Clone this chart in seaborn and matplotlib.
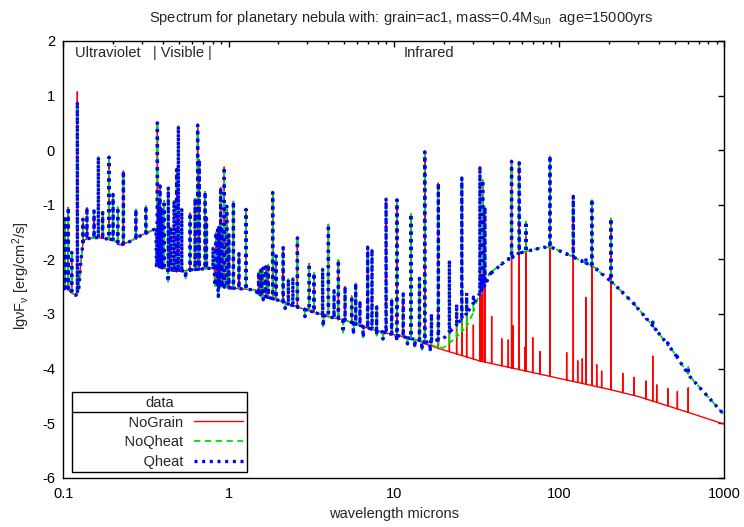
import numpy as np
import pandas as pd
import matplotlib
matplotlib.use("Agg")
import matplotlib.pyplot as plt
import seaborn as sns
from matplotlib.lines import Line2D
from matplotlib.transforms import IdentityTransform
from matplotlib.ticker import LogLocator, FixedLocator, NullFormatter

# ---------------- data ----------------
series_names = ["NoGrain", "NoQheat", "Qheat"]
series_colors = ["#ff0000", "#00e000", "#0000ff"]

# continuum shared by all three runs (microns, log nuFnu)
cont_wl = [0.100, 0.105, 0.110, 0.119, 0.1216, 0.124, 0.128, 0.132, 0.140, 0.160, 0.200,
           0.220, 0.250, 0.300, 0.350, 0.364, 0.366, 0.400, 0.500, 0.600, 0.800,
           0.820, 0.825, 1.000, 1.300, 1.460, 1.500, 2.000, 2.300, 3.000, 4.000,
           5.000, 7.000, 9.000, 11.50, 14.00]
cont_lg = [-2.55, -2.50, -2.60, -2.66, -2.62, -2.55, -2.00, -1.66, -1.62, -1.60, -1.64,
           -1.74, -1.68, -1.55, -1.46, -1.44, -2.12, -2.16, -2.22, -2.19, -2.16,
           -2.15, -2.48, -2.52, -2.55, -2.56, -2.64, -2.75, -2.82, -2.93, -3.05,
           -3.11, -3.26, -3.35, -3.42, -3.48]

# long-wavelength continuum of each run
nograin_wl = [15.5, 20.0, 33.0, 50.0, 100.0, 200.0, 300.0, 600.0, 1000.0]
nograin_lg = [-3.55, -3.66, -3.86, -3.98, -4.18, -4.38, -4.51, -4.80, -5.02]

noqheat_wl = [15.5, 18.0, 20.0, 24.0, 27.6, 30.0, 33.0, 38.2, 48.2, 52.8, 56.6,
              80.4, 90.0, 111.0, 161.0, 213.0, 281.0, 372.0, 491.0, 620.0, 1000.0]
noqheat_lg = [-3.52, -3.60, -3.62, -3.42, -3.23, -3.00, -2.62, -2.25, -2.01, -1.96, -1.89,
              -1.78, -1.78, -1.90, -2.13, -2.44, -2.80, -3.23, -3.69, -4.15, -4.85]

qheat_wl = [15.5, 17.0, 20.0, 24.0, 27.6, 32.0, 36.5, 38.2, 48.2, 52.8, 56.6,
            80.4, 90.0, 111.0, 161.0, 213.0, 281.0, 372.0, 491.0, 620.0, 1000.0]
qheat_lg = [-3.52, -3.50, -3.45, -3.20, -2.99, -2.70, -2.41, -2.27, -2.01, -1.96, -1.89,
            -1.78, -1.78, -1.90, -2.13, -2.44, -2.80, -3.23, -3.69, -4.15, -4.85]

# emission lines: wavelength (micron) and log line peak
line_wl = [0.1024, 0.1072, 0.1124, 0.1216, 0.1315, 0.139, 0.1535, 0.163, 0.173, 0.189,
           0.200, 0.2135, 0.231, 0.275, 0.316, 0.371, 0.377, 0.380, 0.385, 0.390,
           0.397, 0.408, 0.432, 0.447, 0.468, 0.485, 0.497, 0.521, 0.585, 0.627,
           0.650, 0.665, 0.721, 0.735, 0.806, 0.840, 0.860, 0.875, 0.896, 0.910,
           0.942, 0.975, 1.005, 1.070, 1.156, 1.276, 1.520, 1.570, 1.620, 1.680,
           1.740, 1.850, 1.940, 2.140, 2.300, 2.450, 2.610, 3.080, 3.290, 3.710,
           4.020, 4.350, 4.620, 5.070, 5.560, 5.880, 6.240, 6.950, 7.380, 7.880,
           8.980, 9.710, 10.45, 11.40, 12.70, 14.30, 15.40, 16.90, 18.60, 21.70,
           24.00, 25.80, 27.60, 30.30, 33.20, 34.00, 34.50, 35.60, 39.10, 45.00,
           49.30, 51.60, 52.50, 57.40, 62.20, 63.10, 69.30, 76.70, 88.10, 111.2,
           121.9, 129.7, 138.3, 145.6, 158.0, 169.0, 181.0, 206.0, 243.0, 285.0,
           336.0, 369.0, 390.0, 455.0, 520.0, 605.0]
line_lg = [-1.28, -1.06, -1.96, 0.89, -1.46, -1.19, -1.28, -0.14, -1.32, -0.14,
           -0.88, -1.15, -0.40, -1.24, -1.19, 0.50, -1.20, -1.00, -0.67, -1.30,
           -1.10, -0.95, -0.69, -1.50, -0.95, -0.36, 0.44, -1.10, -1.19, -0.91,
           0.46, -0.18, -0.78, -1.30, -2.01, -1.55, -1.50, -1.45, -0.69, -1.50,
           -0.31, -1.04, -1.60, -0.95, -2.01, -1.10, -2.45, -2.38, -2.32, -2.28,
           -2.22, -0.78, -2.01, -1.83, -2.55, -2.50, -1.63, -2.14, -2.34, -2.23,
           -1.37, -2.74, -2.05, -2.62, -2.84, -2.52, -2.96, -1.79, -1.83, -3.07,
           -0.88, -2.84, -0.91, -2.71, -1.17, -2.38, -0.03, -3.16, -0.60, -2.04,
           -3.05, -0.51, -2.85, -3.32, -0.30, -2.68, -0.55, -1.06, -3.11, -3.62,
           -3.64, -0.21, -3.29, -0.24, -3.81, -1.45, -3.55, -3.90, -0.11, -3.87,
           -0.88, -4.08, -4.01, -2.71, -0.92, -4.15, -4.34, -1.28, -4.34, -4.43,
           -4.50, -3.84, -4.58, -4.65, -4.70, -4.54]
lya_wl = 0.1216
lya_nograin_lg = 1.07

# jagged dips in the grain runs (micron, log value)
dip_wl = [0.431, 0.55, 0.867, 1.62, 2.2, 2.9, 3.74, 4.94, 5.7, 6.53, 7.88, 8.6, 10.4, 12.1, 13.4, 14.8, 16.6]
dip_lg = [-2.41, -2.35, -2.68, -2.74, -2.90, -3.05, -3.23, -3.34, -3.38, -3.43, -3.40,
          -3.46, -3.50, -3.55, -3.62, -3.66, -3.69]


def build_series(knot_wl, knot_lg, lwl, llg, dwl=None, dlg=None):
    lk = np.log10(np.asarray(knot_wl, float))
    kv = np.asarray(knot_lg, float)
    pts = list(zip(lk, kv))
    h = 0.0007
    for w, p in zip(lwl, llg):
        l = np.log10(w)
        b = np.interp(l, lk, kv)
        pts += [(l - h, np.interp(l - h, lk, kv)),
                (l, np.log10(10 ** b + 10 ** p)),
                (l + h, np.interp(l + h, lk, kv))]
    if dwl is not None:
        hd = 0.0025
        for w, d in zip(dwl, dlg):
            l = np.log10(w)
            b = np.interp(l, lk, kv)
            pts += [(l - hd, np.interp(l - hd, lk, kv)), (l, min(b, d)),
                    (l + hd, np.interp(l + hd, lk, kv))]
    pts.sort(key=lambda t: t[0])
    arr = np.array(pts)
    return pd.DataFrame({"wavelength": 10 ** arr[:, 0], "lgnuFnu": arr[:, 1]})


nograin_lines = [lya_nograin_lg if w == lya_wl else v for w, v in zip(line_wl, line_lg)]
df_nograin = build_series(cont_wl + nograin_wl, cont_lg + nograin_lg, line_wl, nograin_lines)
df_noqheat = build_series(cont_wl + noqheat_wl, cont_lg + noqheat_lg, line_wl, line_lg, dip_wl, dip_lg)
df_qheat = build_series(cont_wl + qheat_wl, cont_lg + qheat_lg, line_wl, line_lg, dip_wl, dip_lg)

x_ticks = [0.1, 1, 10, 100, 1000]
x_ticklabels = ["0.1", "1", "10", "100", "1000"]
y_ticks = [2, 1, 0, -1, -2, -3, -4, -5, -6]

# ---------------- figure ----------------
sns.set_theme(style="white")
plt.rcParams["font.family"] = ["Liberation Sans", "DejaVu Sans"]
plt.rcParams["mathtext.default"] = "regular"

W, H = 744, 527
fig = plt.figure(figsize=(W / 100, H / 100), dpi=100)
L, R, T, B = 63.3, 724.3, 41.0, 477.7
ax = fig.add_axes([L / W, 1 - B / H, (R - L) / W, (B - T) / H])

styles = [dict(linestyle="-", linewidth=1.0),
          dict(linestyle=(0, (3.5, 2.5)), linewidth=1.3),
          dict(linestyle=(0, (0.9, 1.4)), linewidth=2.4)]
for df, name, col, st in zip([df_nograin, df_noqheat, df_qheat], series_names, series_colors, styles):
    sns.lineplot(data=df, x="wavelength", y="lgnuFnu", ax=ax, color=col, estimator=None,
                 sort=False, legend=False, **st)

ax.set_xscale("log")
ax.set_xlim(0.1, 1000)
ax.set_ylim(-6, 2)
ax.xaxis.set_major_locator(FixedLocator(x_ticks))
ax.set_xticklabels(x_ticklabels)
ax.xaxis.set_minor_locator(LogLocator(base=10, subs=np.arange(2, 10)))
ax.xaxis.set_minor_formatter(NullFormatter())
ax.set_yticks(y_ticks)
ax.set_yticklabels([str(v) for v in y_ticks])
ax.tick_params(which="both", direction="in", top=True, right=True, colors="black",
               labelsize=10.5, width=1.0)
ax.tick_params(which="major", length=4.5)
ax.tick_params(which="minor", length=2.3)
ax.tick_params(axis="x", which="major", pad=7)
ax.tick_params(axis="y", which="major", pad=6)
for s in ax.spines.values():
    s.set_color("black")
    s.set_linewidth(1.0)

ax.set_xlabel("wavelength microns", fontsize=10.5)
ax.set_ylabel("lgνF$_{ν}$ [erg/cm$^{2}$/s]", fontsize=10.5)
ax.xaxis.set_label_coords(0.5, (B - 514) / (B - T))
ax.xaxis.label.set_va("center")
ax.yaxis.set_label_coords((20.7 - L) / (R - L), (B - 276) / (B - T))
ax.yaxis.label.set_va("center")

fig.text(401.5 / W, 1 - 18 / H, "Spectrum for planetary nebula with: grain=ac1, mass=0.4M$_{Sun}$  age=15000yrs",
         ha="center", va="center", fontsize=10.5)

ax.text(0.118, 1.775, "Ultraviolet   | Visible |", ha="left", va="center", fontsize=10.5)
ax.text(11.4, 1.775, "Infrared", ha="left", va="center", fontsize=10.5)

handles = [Line2D([], [], color=c, **st) for c, st in zip(series_colors, styles)]
pad = " " * 12
leg = ax.legend(handles, [pad + n for n in series_names], title="data", loc="lower left",
                bbox_to_anchor=((71.7 - L) / (R - L), (B - 472.3) / (B - T)), borderaxespad=0,
                markerfirst=False, fancybox=False, frameon=True, edgecolor="black",
                framealpha=1, fontsize=10.5, title_fontsize=10.5, handlelength=3.4,
                handletextpad=0.7, labelspacing=0.38, borderpad=0.25)
leg.get_frame().set_linewidth(1.0)

fig.canvas.draw()
rend = fig.canvas.get_renderer()
bb = leg.get_window_extent(rend)
tb = leg.get_title().get_window_extent(rend)
ysep = tb.y0 - 1.5
fig.add_artist(Line2D([bb.x0, bb.x1], [ysep, ysep], transform=IdentityTransform(),
                      color="black", linewidth=1.0))

fig.savefig("out.png", dpi=100)
